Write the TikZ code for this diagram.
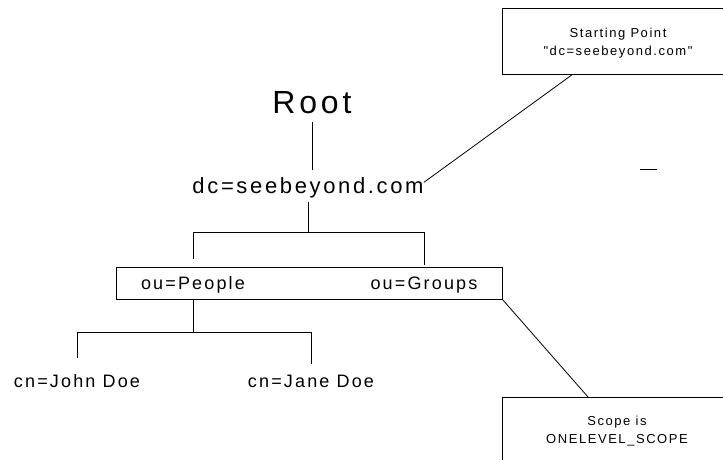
\documentclass[tikz,border=0pt]{standalone}
\usepackage{fontspec}
\newfontfamily\lblfont[LetterSpace=12]{Liberation Sans}
\usetikzlibrary{positioning,calc}
\tikzset{
  entry/.style={inner sep=0pt,anchor=base,font=\lblfont\fontsize{18}{21}\selectfont},
  note/.style={inner sep=0pt,anchor=north,align=center,font=\lblfont\fontsize{13}{18}\selectfont},
  frame/.style={draw,inner sep=0pt},
}
\begin{document}
\begin{tikzpicture}[x=1pt,y=-1pt,line width=0.8pt]
  \useasboundingbox (0,0) rectangle (723,459);
  \node[entry,font=\lblfont\fontsize{32}{36}\selectfont] (root) at (312,113) {Root};
  \node[entry,font=\lblfont\fontsize{22}{26}\selectfont] (dc) at (308,193) {dc=seebeyond.com};
  \node[frame,minimum width=386pt,minimum height=32pt] (oubox) at (309,283) {};
  \node[entry] (people) at (193,289) {ou=People};
  \node[entry] (groups) at (424,289) {ou=Groups};
  \node[entry] (john) at (77,387) {cn=John Doe};
  \node[entry] (jane) at (311,387) {cn=Jane Doe};
  % notes at the right, cut by the page edge
  \node[frame,anchor=north west,minimum width=232pt,minimum height=66pt] (start) at (502,8) {};
  \node[note] (starttxt) at (618,27.5) {Starting Point\\"dc=seebeyond.com"};
  \node[frame,anchor=north west,minimum width=244pt,minimum height=90pt] (scope) at (502,397) {};
  \node[note] (scopetxt) at (617,415.5) {Scope is\\ONELEVEL\_SCOPE};
  % tree lines
  \draw ([yshift=-8pt]root.south) -- ++(0,48);
  \coordinate (dcfork) at ($(dc.south)+(0,34)$);
  \draw ([yshift=-4pt]dc.south) -- (dcfork);
  \draw (dcfork -| people) -- (dcfork -| groups);
  \draw (dcfork -| people) -- ++(0,27);
  \draw (dcfork -| groups) -- ++(0,33);
  \coordinate (oufork) at ($(oubox.south -| people)+(0,33)$);
  \draw (oubox.south -| people) -- (oufork);
  \draw (oufork -| john) -- (oufork -| jane);
  \draw (oufork -| john) -- ++(0,26);
  \draw (oufork -| jane) -- ++(0,32);
  % pointers to the notes
  \draw ([yshift=5pt]dc.east) -- ([xshift=70pt]start.south west);
  \draw (oubox.south east) -- ([xshift=86pt]scope.north west);
  \draw (640,169) -- (657,169);
\end{tikzpicture}
\end{document}
